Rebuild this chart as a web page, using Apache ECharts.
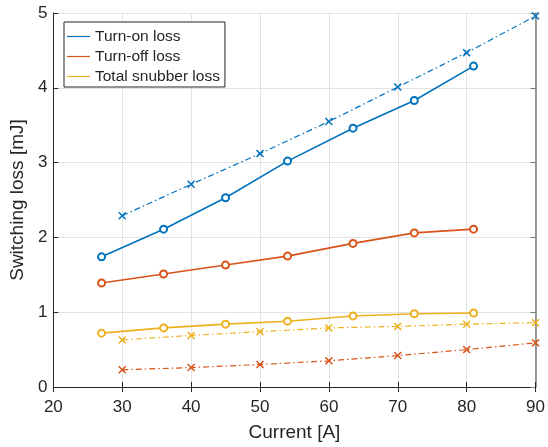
<!DOCTYPE html>
<html>
<head>
<meta charset="utf-8">
<script src="https://cdn.jsdelivr.net/npm/echarts@6/dist/echarts.min.js"></script>
<style>
  html, body { margin: 0; padding: 0; background: #fff; }
  #chart { width: 548px; height: 447px; }
</style>
</head>
<body>
<div id="chart"></div>
<script>
// Measured operating points (current in A, loss in mJ)
const measCurrent = [27, 36, 45, 54, 63.5, 72.4, 81];
const measTurnOn  = [1.74, 2.11, 2.53, 3.02, 3.46, 3.83, 4.29];
const measTurnOff = [1.39, 1.51, 1.63, 1.75, 1.92, 2.06, 2.11];
const measSnubber = [0.72, 0.79, 0.84, 0.88, 0.95, 0.98, 0.99];

// Reference curve points
const refCurrent = [30, 40, 50, 60, 70, 80, 90];
const refTurnOn  = [2.29, 2.71, 3.12, 3.55, 4.01, 4.47, 4.96];
const refTurnOff = [0.23, 0.26, 0.30, 0.35, 0.42, 0.50, 0.59];
const refSnubber = [0.63, 0.69, 0.74, 0.79, 0.81, 0.84, 0.86];

const legendNames = ['Turn-on loss', 'Turn-off loss', 'Total snubber loss'];
const xTicks = { min: 20, max: 90, step: 10 };
const yTicks = { min: 0, max: 5, step: 1 };

const colors = ['#0072BD', '#D95319', '#EDB120'];
const FONT = '"Liberation Sans", Arial, Helvetica, sans-serif';
const TXT = '#262626';
const CROSS = 'path://M0,1.3 L1.3,0 L5,3.7 L8.7,0 L10,1.3 L6.3,5 L10,8.7 L8.7,10 L5,6.3 L1.3,10 L0,8.7 L3.7,5 Z';
const DASHDOT = [6, 3, 1.5, 3];

const pairs = (xs, ys) => xs.map((x, i) => [x, ys[i]]);

function solidSeries(name, xs, ys, color) {
  return {
    name, type: 'line', data: pairs(xs, ys),
    symbol: 'emptyCircle', symbolSize: 7,
    lineStyle: { color, width: 1.6 },
    itemStyle: { color, borderColor: color, borderWidth: 1.4 },
    emphasis: { disabled: true }, animation: false, z: 3
  };
}
function dashSeries(name, xs, ys, color) {
  return {
    name, type: 'line', data: pairs(xs, ys),
    symbol: CROSS, symbolSize: 8,
    lineStyle: { color, width: 1.2, type: DASHDOT },
    itemStyle: { color },
    emphasis: { disabled: true }, animation: false, z: 3
  };
}

const chart = echarts.init(document.getElementById('chart'), null, { renderer: 'canvas' });

const baseX = {
  type: 'value', min: xTicks.min, max: xTicks.max, interval: xTicks.step
};
const baseY = {
  type: 'value', min: yTicks.min, max: yTicks.max, interval: yTicks.step
};

chart.setOption({
  backgroundColor: '#ffffff',
  animation: false,
  grid: { left: 53, right: 11, top: 13, bottom: 55, containLabel: false },
  legend: {
    data: legendNames,
    orient: 'vertical',
    left: 64, top: 22,
    padding: [6, 5, 2, 3],
    itemGap: 3,
    itemWidth: 23, itemHeight: 1.2,
    icon: 'rect',
    itemStyle: { borderWidth: 0 },
    backgroundColor: '#ffffff',
    borderColor: TXT, borderWidth: 1,
    textStyle: { fontFamily: FONT, fontSize: 15.5, color: TXT, lineHeight: 17 }
  },
  xAxis: [
    Object.assign({}, baseX, {
      position: 'bottom',
      name: 'Current [A]', nameLocation: 'middle', nameGap: 36,
      nameTextStyle: { fontFamily: FONT, fontSize: 19, color: TXT },
      axisLine: { show: true, lineStyle: { color: TXT, width: 1 } },
      axisTick: { show: true, inside: true, length: 5, lineStyle: { color: TXT } },
      axisLabel: { fontFamily: FONT, fontSize: 17, color: TXT, margin: 12 },
      splitLine: { show: true, lineStyle: { color: '#e3e3e3', width: 1 } }
    }),
    Object.assign({}, baseX, {
      position: 'top',
      axisLine: { show: true, lineStyle: { color: TXT, width: 1 } },
      axisTick: { show: true, inside: true, length: 5, lineStyle: { color: TXT } },
      axisLabel: { show: false },
      splitLine: { show: false }
    })
  ],
  yAxis: [
    Object.assign({}, baseY, {
      position: 'left',
      name: 'Switching loss [mJ]', nameLocation: 'middle', nameGap: 20,
      nameTextStyle: { fontFamily: FONT, fontSize: 19, color: TXT },
      axisLine: { show: true, lineStyle: { color: TXT, width: 1 } },
      axisTick: { show: true, inside: true, length: 5, lineStyle: { color: TXT } },
      axisLabel: { fontFamily: FONT, fontSize: 17, color: TXT, margin: 6 },
      splitLine: { show: true, lineStyle: { color: '#e3e3e3', width: 1 } }
    }),
    Object.assign({}, baseY, {
      position: 'right',
      axisLine: { show: true, lineStyle: { color: '#7a7a7a', width: 1.5 } },
      axisTick: { show: true, inside: true, length: 5, lineStyle: { color: '#7a7a7a' } },
      axisLabel: { show: false },
      splitLine: { show: false }
    })
  ],
  series: [
    solidSeries(legendNames[0], measCurrent, measTurnOn, colors[0]),
    solidSeries(legendNames[1], measCurrent, measTurnOff, colors[1]),
    solidSeries(legendNames[2], measCurrent, measSnubber, colors[2]),
    dashSeries('Turn-on loss, reference', refCurrent, refTurnOn, colors[0]),
    dashSeries('Turn-off loss, reference', refCurrent, refTurnOff, colors[1]),
    dashSeries('Total snubber loss, reference', refCurrent, refSnubber, colors[2])
  ]
});
</script>
</body>
</html>
